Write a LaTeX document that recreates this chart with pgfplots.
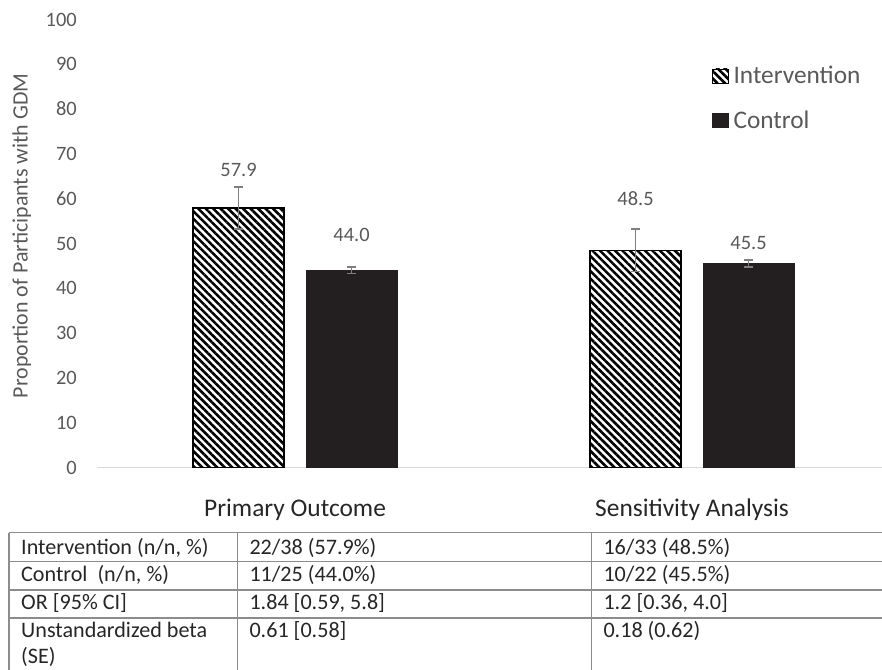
\documentclass[border=0pt]{standalone}
\usepackage{fontspec}
\setmainfont{Carlito}
\usepackage{pgfplots}
\usepackage{pgfplotstable}
\pgfplotsset{compat=1.18}
\usetikzlibrary{patterns.meta}
\definecolor{txtgray}{HTML}{595959}
\definecolor{dark}{HTML}{262626}
\definecolor{ctrl}{HTML}{231F20}
\definecolor{errgray}{HTML}{7F7F7F}
\definecolor{basegray}{HTML}{D9D9D9}
\definecolor{tabline}{HTML}{8C8C8C}
\pgfplotsset{sqlegend/.style={legend image code/.code={\draw[##1, line width=0.6bp] (0bp,-7bp) rectangle (15.6bp,7bp);}}}

\pgfplotstableread{
x y err off
0 57.9 4.7 38
1 48.5 4.7 52
}\intv
\pgfplotstableread{
x y err off
0 44.0 0.7 35.4
1 45.5 0.8 20.2
}\ctrl

\begin{document}
\begin{tikzpicture}[x=1bp,y=1bp]
\begin{axis}[
  at={(96.5bp,202.5bp)}, anchor=south west,
  scale only axis, width=785.3bp, height=448bp,
  xmin=-0.5, xmax=1.478, ymin=0, ymax=100,
  ybar=22bp, bar width=91bp,
  axis line style={draw=none},
  clip=false,
  /pgf/number format/assume math mode=true,
  xtick={0,1}, xticklabels={Primary Outcome, Sensitivity Analysis},
  ytick={0,10,...,100},
  major tick length=0pt,
  xticklabel style={anchor=base, inner sep=0pt, yshift=-49.5bp, font=\fontsize{25.5}{30}\selectfont, text=dark},
  yticklabel style={anchor=east, inner sep=0pt, xshift=-19.5bp, font=\fontsize{20.5}{24}\selectfont, text=txtgray},
  ylabel={Proportion of Participants with GDM},
  every axis y label/.style={at={(axis description cs:-0.095,0.517)}, rotate=90, anchor=center, font=\fontsize{22}{26}\selectfont, text=txtgray},
  legend style={at={(axis description cs:0.784,0.90)}, anchor=north west, draw=none, fill=none, inner sep=0pt,
    font=\fontsize{25.4}{30}\selectfont, text=txtgray, row sep=21.5bp, cells={anchor=west},
    /tikz/every odd column/.append style={column sep=3bp}},
  nodes near coords,
  point meta=y,
  nodes near coords style={/pgf/number format/fixed, /pgf/number format/fixed zerofill, /pgf/number format/precision=1},
  visualization depends on={\thisrow{off} \as \off},
  every node near coord/.append style={anchor=center, yshift=\off bp, font=\fontsize{20.5}{24}\selectfont, text=txtgray},
]
\draw[basegray, line width=1.3bp] (axis cs:-0.5,0) -- (axis cs:1.478,0);
\addplot[draw=black, line width=1.2bp, pattern={Lines[angle=-45,distance=5.3bp,line width=2.6bp]}, pattern color=black,
  sqlegend,
  error bars/.cd, y dir=both, y explicit,
  error bar style={errgray, line width=1.5bp},
  error mark options={rotate=90, mark size=4.5bp, errgray, line width=1.5bp}]
  table[x=x, y=y, y error=err] {\intv};
\addlegendentry{Intervention}
\addplot[draw=ctrl, fill=ctrl, line width=0.5bp,
  sqlegend,
  error bars/.cd, y dir=both, y explicit,
  error bar style={errgray, line width=1.5bp},
  error mark options={rotate=90, mark size=4.5bp, errgray, line width=1.5bp}]
  table[x=x, y=y, y error=err] {\ctrl};
\addlegendentry{Control}
\end{axis}
% summary table
\begin{scope}[draw=tabline, line width=1.3bp]
\draw (9,137.3) -- (890,137.3);
\draw (9,108.3) -- (890,108.3);
\draw (9,80) -- (890,80);
\draw (9,52) -- (890,52);
\draw (9,137.3) -- (9,-5);
\draw (237.3,137.3) -- (237.3,-5);
\draw (591.7,137.3) -- (591.7,-5);
\end{scope}
\begin{scope}[every node/.style={anchor=base west, inner sep=0pt, font=\fontsize{22.2}{26}\selectfont, text=dark}]
\node at (21,115) {Intervention (n/n, \%)};
\node at (21,88) {Control\ \ (n/n, \%)};
\node at (21,60) {OR [95\% CI]};
\node at (21,32) {Unstandardized beta};
\node at (21,6) {(SE)};
\node at (249.3,115) {22/38 (57.9\%)};
\node at (249.3,88) {11/25 (44.0\%)};
\node at (249.3,60) {1.84 [0.59, 5.8]};
\node at (249.3,32) {0.61 [0.58]};
\node at (603.3,115) {16/33 (48.5\%)};
\node at (603.3,88) {10/22 (45.5\%)};
\node at (603.3,60) {1.2 [0.36, 4.0]};
\node at (603.3,32) {0.18 (0.62)};
\end{scope}
\pgfresetboundingbox
\path[use as bounding box] (0,0) rectangle (882,670);
\end{tikzpicture}
\end{document}
